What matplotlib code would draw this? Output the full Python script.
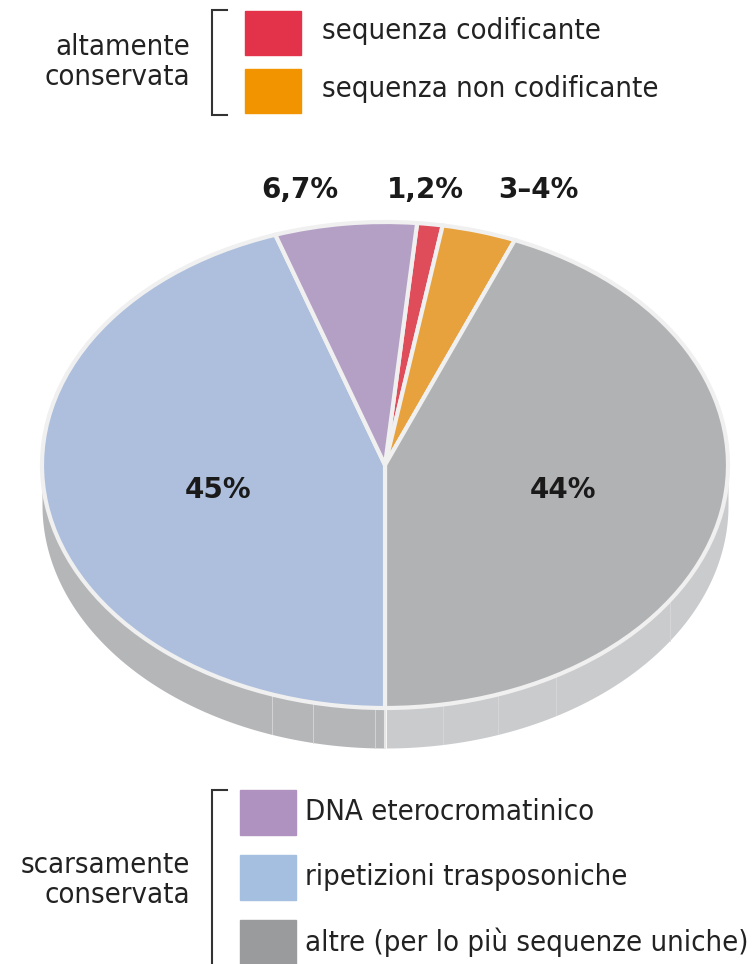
"""Genome composition pie (schematic 3D ellipse)"""
import numpy as np
import matplotlib
matplotlib.use("Agg")
import matplotlib.pyplot as plt
from matplotlib import font_manager as fm
from matplotlib.patches import Rectangle

# slice data, clockwise from the top
SLICE_NAMES = ["sequenza codificante", "sequenza non codificante",
               "altre (per lo più sequenze uniche)", "ripetizioni trasposoniche",
               "DNA eterocromatinico"]
SLICE_VALUES = [1.2, 3.5, 44, 45, 6.7]
SLICE_LABELS = ["1,2%", "3–4%", "44%", "45%", "6,7%"]
SLICE_COLORS = ["#df4c5a", "#e8a23d", "#b1b2b4", "#adbfdc", "#b5a0c5"]

HIGH_NAMES = ["sequenza codificante", "sequenza non codificante"]
HIGH_COLORS = ["#e3334a", "#f29400"]
LOW_NAMES = ["DNA eterocromatinico", "ripetizioni trasposoniche",
             "altre (per lo più sequenze uniche)"]
LOW_COLORS = ["#b092c0", "#a5bfe0", "#9a9b9d"]

W, H = 756, 964


def narrow_font():
    # look for any installed condensed / narrow sans face
    for f in fm.fontManager.ttflist:
        if f.style != "normal" or f.weight not in (400, "normal", "regular"):
            continue
        if "Mono" in f.name or "Serif" in f.name:
            continue
        if (f.stretch in ("condensed", "semi-condensed")
                or "Narrow" in f.name or "Condensed" in f.name):
            return dict(family=[f.name, "DejaVu Sans"], stretch=f.stretch,
                        fontsize=21)
    return dict(family=["DejaVu Sans"], fontsize=16.5)


COND = narrow_font()

fig = plt.figure(figsize=(W / 100, H / 100), dpi=100)

# ---- pie axes: unit circle squashed into an ellipse ----
cx, cy, rx, ry = 385, 465, 343, 243
thick = 40 / ry
x0, x1, y0, y1 = -1.05, 1.05, -1.25, 1.05
ax = fig.add_axes([(cx + x0 * rx) / W, 1 - (cy - y0 * ry) / H,
                   (x1 - x0) * rx / W, (y1 - y0) * ry / H])

total = sum(SLICE_VALUES)
start = -90 + 360 * sum(SLICE_VALUES[:3]) / total
wedges, _ = ax.pie(SLICE_VALUES, colors=SLICE_COLORS, startangle=start,
                   counterclock=False,
                   wedgeprops=dict(edgecolor="#f0f0f0", linewidth=3))
for w in wedges:
    w.set_zorder(3)

# the side of the disc
t = np.linspace(np.pi, 2 * np.pi, 400)
xs, ys = np.cos(t), np.sin(t)
left = xs <= 0
ax.fill_between(xs[left], ys[left] - thick, ys[left], color="#b5b6b8",
                lw=0, zorder=1)
ax.fill_between(xs[~left], ys[~left] - thick, ys[~left], color="#cacbcd",
                lw=0, zorder=1)
for xv in [-0.33, -0.21, -0.03, 0.17, 0.33, 0.5, 0.83]:
    yv = -np.sqrt(1 - xv ** 2)
    ax.plot([xv, xv], [yv - thick, yv], color="#d8d8da", lw=0.6, zorder=2)
ax.plot([0, 0], [-1 - thick, -1], color="#e6e6e6", lw=1.5, zorder=2)

ax.set_aspect("auto")
ax.set_xlim(x0, x1)
ax.set_ylim(y0, y1)
ax.axis("off")

# ---- overlay in pixel coordinates for texts and legends ----
ov = fig.add_axes([0, 0, 1, 1], zorder=5)
ov.set_xlim(0, W)
ov.set_ylim(H, 0)
ov.axis("off")

label_pos = {"6,7%": (300, 190), "1,2%": (425, 190), "3–4%": (538, 190),
             "45%": (218, 490), "44%": (563, 490)}
for lab in SLICE_LABELS:
    x, y = label_pos[lab]
    ov.text(x, y, lab, ha="center", va="center", fontsize=20,
            fontweight="bold", color="#1a1a1a")


def bracket(x, ytop, ybot):
    ov.plot([x + 15, x, x, x + 15], [ytop, ytop, ybot, ybot],
            color="#333333", lw=1.5, solid_joinstyle="miter")


# top legend
bracket(212, 10, 115)
ov.text(190, 62, "altamente\nconservata", ha="right", va="center",
        color="#222222", linespacing=1.05, **COND)
for i, (name, col) in enumerate(zip(HIGH_NAMES, HIGH_COLORS)):
    ytop = 11 + i * 58
    ov.add_patch(Rectangle((245, ytop), 56, 44, color=col))
    ov.text(322, ytop + 20, name, ha="left", va="center", color="#222222",
            **COND)

# bottom legend
bracket(212, 790, 990)
ov.text(190, 880, "scarsamente\nconservata", ha="right", va="center",
        color="#222222", linespacing=1.05, **COND)
for i, (name, col) in enumerate(zip(LOW_NAMES, LOW_COLORS)):
    ytop = 790 + i * 65
    ov.add_patch(Rectangle((240, ytop), 56, 45, color=col))
    ov.text(305, ytop + 22, name, ha="left", va="center", color="#222222",
            **COND)

fig.savefig("out.png", dpi=100)
